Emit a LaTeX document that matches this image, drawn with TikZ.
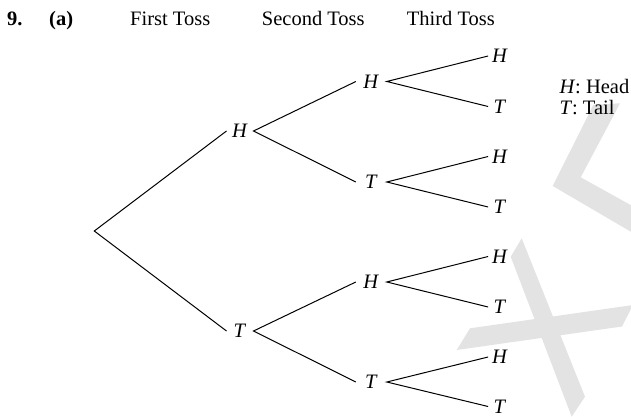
\documentclass[tikz,border=0pt]{standalone}
\usepackage{fontspec}
\setmainfont{Liberation Serif}
\begin{document}
\begin{tikzpicture}[x=1pt,y=-1pt,
  every node/.style={font=\fontsize{20.5}{24}\selectfont},
  wm/.style={fill=black!11, draw=none},
  branch/.style={line width=1pt, black},
  lab/.style={inner sep=0pt},
  lone/.style={lab, minimum width=26.6pt},
  ltwo/.style={lab, minimum width=30.6pt},
  lthree/.style={lab, minimum width=23.4pt},
  head/.style={anchor=base west, inner sep=0pt}]
\useasboundingbox (0,0) rectangle (631,417);
% watermark
\fill[wm] (510.7,256.7) -- (521.7,238.3) -- (585,396.7) -- (571.7,416.7) -- cycle;
\fill[wm] (456.7,350) -- (470,328.3) -- (633,305) -- (622,326.5) -- cycle;
\fill[wm] (593.3,105) -- (620,103.3) -- (580.7,177.3) -- (645,213) -- (645,240) -- (552.7,186) -- cycle;
% header
\node[head] (n9) at (7,26) {\textbf{9.}};
\node[head] (na) at (49,26) {\textbf{(a)}};
\node[head] (h1) at (130,26) {First Toss};
\node[head] (h2) at (261.7,26) {Second Toss};
\node[head] (h3) at (406.7,26) {Third Toss};
% legend
\node[head] (lgH) at (559.3,93.3) {\textit{H}: Head};
\node[head] (lgT) at (559.3,114) {\textit{T}: Tail};
% tree
\node[coordinate] (root) at (94.3,231) {};
\node[lone] (H) at (240,131) {\textit{H}};
\node[lone] (T) at (240,331) {\textit{T}};
\node[ltwo] (HH) at (371.3,81.5) {\textit{H}};
\node[ltwo] (HT) at (371.3,182) {\textit{T}};
\node[ltwo] (TH) at (371.3,282) {\textit{H}};
\node[ltwo] (TT) at (371.3,382) {\textit{T}};
\node[lthree] (HHH) at (500,56) {\textit{H}};
\node[lthree] (HHT) at (500,106.5) {\textit{T}};
\node[lthree] (HTH) at (500,156.5) {\textit{H}};
\node[lthree] (HTT) at (500,207) {\textit{T}};
\node[lthree] (THH) at (500,256.5) {\textit{H}};
\node[lthree] (THT) at (500,307) {\textit{T}};
\node[lthree] (TTH) at (500,357) {\textit{H}};
\node[lthree] (TTT) at (500,406.5) {\textit{T}};
\draw[branch] (H.west) -- (root) -- (T.west);
\draw[branch] (HH.west) -- (H.east) -- (HT.west);
\draw[branch] (TH.west) -- (T.east) -- (TT.west);
\draw[branch] (HHH.west) -- (HH.east) -- (HHT.west);
\draw[branch] (HTH.west) -- (HT.east) -- (HTT.west);
\draw[branch] (THH.west) -- (TH.east) -- (THT.west);
\draw[branch] (TTH.west) -- (TT.east) -- (TTT.west);
\end{tikzpicture}
\end{document}
